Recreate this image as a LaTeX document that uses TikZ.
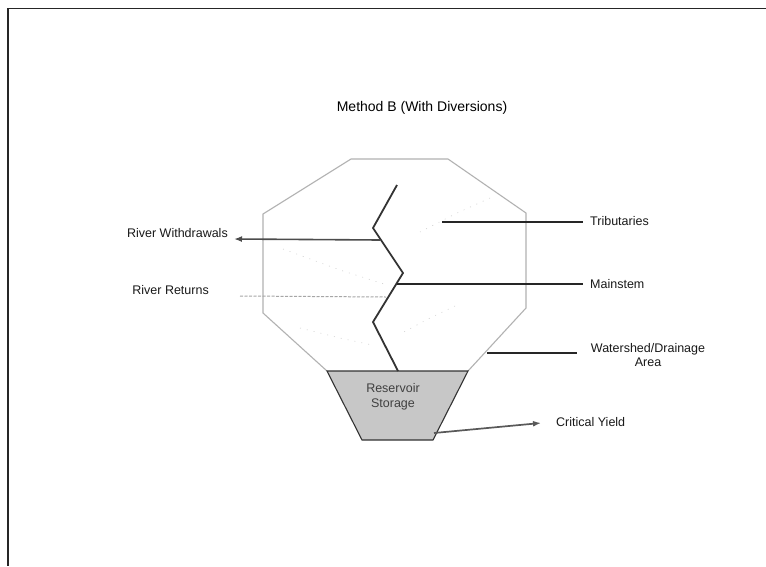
\documentclass[tikz,border=0pt]{standalone}
\usepackage{fontspec}
\setmainfont{Liberation Sans}
\usetikzlibrary{arrows.meta}
\begin{document}
\begin{tikzpicture}[x=1pt,y=-1pt,
  lbl/.style={font=\fontsize{12.5}{14.5}\selectfont, inner sep=0pt, text=black!90},
  leader/.style={draw=black!85, line width=1.2pt},
  shed/.style={draw=black!30, line width=1.1pt},
  trib/.style={draw=black!18, line width=0.6pt, dash pattern=on 1pt off 6pt},
  river/.style={draw=black!80, line width=1.8pt, line join=round},
  arr/.style={-{Latex[length=8pt,width=6pt]}}]
\useasboundingbox (0,0) rectangle (766,566);
\fill[white] (0,0) rectangle (766,566);
% frame (only top and left visible)
\draw[black!85, line width=1.2pt] (766,8.5) -- (8,8.5) -- (8,566);

% title
\node[font=\fontsize{14}{16}\selectfont, inner sep=0pt] (title) at (422,108) {Method B (With Diversions)};

% watershed octagon
\coordinate (o1) at (351,159);
\coordinate (o2) at (448,159);
\coordinate (o3) at (526,213);
\coordinate (o4) at (526,308);
\coordinate (o5) at (468,371);
\coordinate (o6) at (327,371);
\coordinate (o7) at (263,313);
\coordinate (o8) at (263,214);
\draw[shed] (o5) -- (o4) -- (o3) -- (o2) -- (o1) -- (o8) -- (o7) -- (o6);

% faint tributaries
\draw[trib] (283,249) -- (340,270) -- (384,284);
\draw[trib] (490,198) -- (455,214) -- (420,232);
\draw[trib] (455,306) -- (430,318) -- (400,334);
\draw[trib] (300,328) -- (340,338) -- (372,345);

% reservoir
\coordinate (r1) at (327,371);
\coordinate (r2) at (468,371);
\coordinate (r3) at (433,440);
\coordinate (r4) at (362,440);
\fill[black!22, draw=black!80, line width=1.1pt] (r1) -- (r2) -- (r3) -- (r4) -- cycle;
\node[lbl, align=center, text=black!75] (rs) at (393,397) {Reservoir\\Storage};

% mainstem river
\coordinate (m0) at (397,185);
\coordinate (m1) at (373,228);
\coordinate (mw) at (380,240);
\coordinate (m2) at (403,273);
\coordinate (mm) at (397,284);
\coordinate (mr) at (386,297);
\coordinate (m3) at (373,322);
\coordinate (m4) at (398,371);
\draw[river] (m0) -- (m1) -- (m2) -- (m3) -- (m4);

% labels
\node[lbl, anchor=east] (wd) at (228,233) {River Withdrawals};
\node[lbl, anchor=east] (rr) at (209,290) {River Returns};
\node[lbl, anchor=west] (tr) at (590,221) {Tributaries};
\node[lbl, anchor=west] (ms) at (590,284) {Mainstem};
\node[lbl, align=center] (ws) at (648,355) {Watershed/Drainage\\Area};
\node[lbl, anchor=west] (cy) at (556,422) {Critical Yield};

% withdrawals and returns
\coordinate (wEnd) at (234,239);
\draw[arr, draw=black!70, line width=1.6pt] (mw) -- (wEnd);
\coordinate (rEnd) at (240,296);
\draw[draw=black!35, line width=1pt, dash pattern=on 3pt off 1.5pt] (rEnd) -- (mr);

% leaders
\coordinate (tS) at (442,222);
\coordinate (tE) at (583,222);
\draw[leader] (tS) -- (tE);
\coordinate (mE) at (583,284);
\draw[leader] (mm) -- (mE);
\coordinate (wS) at (487,353);
\coordinate (wE) at (577,353);
\draw[leader] (wS) -- (wE);

% critical yield
\coordinate (cS) at (434,433);
\coordinate (cE) at (541,423);
\draw[arr, draw=black!65, line width=1.7pt] (cS) -- (cE);
\end{tikzpicture}
\end{document}
